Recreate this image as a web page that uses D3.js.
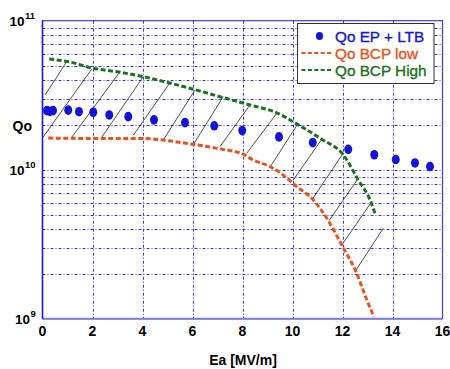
<!DOCTYPE html>
<html>
<head>
<meta charset="utf-8">
<script src="https://cdn.jsdelivr.net/npm/d3@7"></script>
<style>
  body { margin: 0; background: #fff; }
  text { font-family: Arial, "Liberation Sans", sans-serif; }
</style>
</head>
<body>
<div id="chart"></div>
<script>
// Qo EP + LTB measured points
const epEa = [0.18, 0.3, 0.42, 1.03, 1.46, 2.03, 2.67, 3.43, 4.46, 5.7, 6.87, 7.99, 9.46, 10.81, 12.23, 13.27, 14.13, 14.9, 15.5];
const epQo = [2.49e10, 2.46e10, 2.49e10, 2.51e10, 2.45e10, 2.43e10, 2.33e10, 2.27e10, 2.16e10, 2.07e10, 1.97e10, 1.83e10, 1.66e10, 1.52e10, 1.37e10, 1.26e10, 1.17e10, 1.11e10, 1.05e10];

// Qo BCP low
const lowEa = [0.23, 2.3, 4.03, 4.82, 5.9, 7.1, 8.03, 8.43, 9.1, 9.63, 10.17, 10.77, 11.5, 11.97, 12.54, 12.97, 13.26];
const lowQo = [1.63e10, 1.62e10, 1.62e10, 1.58e10, 1.49e10, 1.38e10, 1.27e10, 1.16e10, 1.05e10, 9.2e9, 7.69e9, 6.43e9, 4.36e9, 3.12e9, 2.07e9, 1.34e9, 1.03e9];

// Qo BCP High
const highEa = [0.27, 1.1, 1.97, 3.1, 4.03, 4.97, 6.03, 7.1, 8.3, 9.37, 10.17, 11.17, 12.03, 12.63, 13.1, 13.3];
const highQo = [5.53e10, 5.28e10, 4.82e10, 4.51e10, 4.21e10, 3.86e10, 3.47e10, 3.09e10, 2.72e10, 2.41e10, 2.03e10, 1.60e10, 1.26e10, 8.53e9, 6.27e9, 5.10e9];

// hatch segments between the two BCP curves: [Ea1, Qo1, Ea2, Qo2]
const hatch = [
  [0.1, 3.17e10, 0.97, 5.31e10],
  [0.03, 1.66e10, 1.97, 4.74e10],
  [1.17, 1.65e10, 3.1, 4.55e10],
  [2.37, 1.65e10, 4.03, 4.21e10],
  [3.63, 1.70e10, 5.1, 3.84e10],
  [4.83, 1.58e10, 6.1, 3.43e10],
  [6.06, 1.50e10, 7.23, 3.09e10],
  [7.1, 1.43e10, 8.3, 2.72e10],
  [8.17, 1.29e10, 9.37, 2.39e10],
  [9.1, 1.04e10, 10.23, 2.05e10],
  [10.03, 8.53e9, 11.17, 1.60e10],
  [10.77, 6.26e9, 12.03, 1.29e10],
  [11.46, 4.55e9, 12.63, 8.75e9],
  [11.97, 3.12e9, 13.17, 6.10e9],
  [12.5, 2.07e9, 13.63, 4.04e9]
];

const xTicks = [0, 2, 4, 6, 8, 10, 12, 14, 16];
const yDecades = [1e9, 1e10, 1e11];
const yDecadeLabels = [["10", "9"], ["10", "10"], ["10", "11"]];
const legendNames = ["Qo EP + LTB", "Qo BCP low", "Qo BCP High"];

const W = 450, H = 369;
const margin = {top: 20.7, right: 7.5, bottom: 50.3, left: 42.5};

const x = d3.scaleLinear().domain([0, 16]).range([margin.left, W - margin.right]);
const y = d3.scaleLog().domain([1e9, 1e11]).range([H - margin.bottom, margin.top]);

const blue = "#1414d8", orange = "#e8521e", green = "#1f6e22";

const svg = d3.select("#chart").append("svg")
  .attr("width", W).attr("height", H);

svg.append("clipPath").attr("id", "plot")
  .append("rect")
    .attr("x", margin.left).attr("y", margin.top)
    .attr("width", W - margin.left - margin.right)
    .attr("height", H - margin.top - margin.bottom);

// grid
let minor = [];
[1e9, 1e10].forEach(d => { for (let k = 2; k <= 10; k++) minor.push(d * k); });
minor = minor.filter(v => v < 1e11);

const grid = svg.append("g")
  .attr("stroke", "#3535e8")
  .attr("stroke-width", 1)
  .attr("stroke-dasharray", "3,2,1,2");

grid.selectAll(".hg").data(minor).enter().append("line")
  .attr("x1", margin.left).attr("x2", W - margin.right)
  .attr("y1", d => Math.round(y(d)) + 0.5).attr("y2", d => Math.round(y(d)) + 0.5);

grid.selectAll(".vg").data(xTicks.slice(1, -1)).enter().append("line")
  .attr("x1", d => Math.round(x(d)) + 0.5).attr("x2", d => Math.round(x(d)) + 0.5)
  .attr("y1", margin.top).attr("y2", H - margin.bottom);

// frame
svg.append("rect")
  .attr("x", margin.left).attr("y", margin.top)
  .attr("width", W - margin.left - margin.right)
  .attr("height", H - margin.top - margin.bottom)
  .attr("fill", "none").attr("stroke", "#3a3ae4").attr("stroke-width", 1.2);

svg.append("line")
  .attr("x1", margin.left).attr("x2", W - margin.right)
  .attr("y1", H - margin.bottom).attr("y2", H - margin.bottom)
  .attr("stroke", "#7d7de6").attr("stroke-width", 2);
svg.append("line")
  .attr("x1", margin.left).attr("x2", margin.left)
  .attr("y1", margin.top).attr("y2", H - margin.bottom)
  .attr("stroke", "#1a1ae0").attr("stroke-width", 1.5);

const plot = svg.append("g").attr("clip-path", "url(#plot)");

// hatching
plot.selectAll(".hatch").data(hatch).enter().append("line")
  .attr("x1", d => x(d[0])).attr("y1", d => y(d[1]))
  .attr("x2", d => x(d[2])).attr("y2", d => y(d[3]))
  .attr("stroke", "#222").attr("stroke-width", 0.8);

const line = d3.line()
  .x(d => x(d[0])).y(d => y(d[1]))
  .curve(d3.curveMonotoneX);

plot.append("path")
  .datum(d3.zip(lowEa, lowQo))
  .attr("d", line)
  .attr("fill", "none").attr("stroke", orange)
  .attr("stroke-width", 3).attr("stroke-dasharray", "5,2.5");

plot.append("path")
  .datum(d3.zip(highEa, highQo))
  .attr("d", line)
  .attr("fill", "none").attr("stroke", green)
  .attr("stroke-width", 3).attr("stroke-dasharray", "5,2.5");

plot.selectAll(".ep").data(d3.zip(epEa, epQo)).enter().append("ellipse")
  .attr("cx", d => x(d[0])).attr("cy", d => y(d[1]))
  .attr("rx", 4).attr("ry", 4.8)
  .attr("fill", blue);

// x tick labels
svg.selectAll(".xt").data(xTicks).enter().append("text")
  .attr("x", d => x(d)).attr("y", 336)
  .attr("text-anchor", "middle")
  .attr("font-size", 14).attr("font-weight", "bold")
  .text(d => d);

// y decade labels
const yl = svg.selectAll(".yt").data(yDecades).enter().append("text")
  .attr("x", (d, i) => i === 0 ? 15 : 9.5)
  .attr("y", d => y(d) + 5)
  .attr("font-size", 13.5).attr("font-weight", "bold");
yl.append("tspan").text((d, i) => yDecadeLabels[i][0]);
yl.append("tspan").attr("dy", -7).attr("dx", 0.5).attr("font-size", 9.5)
  .text((d, i) => yDecadeLabels[i][1]);

// axis titles
svg.append("text")
  .attr("x", 12.5).attr("y", 130.5)
  .attr("font-size", 14).attr("font-weight", "bold")
  .text("Qo");

svg.append("text")
  .attr("x", 243).attr("y", 365)
  .attr("text-anchor", "middle")
  .attr("font-size", 14).attr("font-weight", "bold")
  .text("Ea [MV/m]");

// legend
const lg = svg.append("g");
lg.append("rect")
  .attr("x", 297.5).attr("y", 23.5).attr("width", 136.5).attr("height", 60)
  .attr("fill", "#fff").attr("stroke", "#333").attr("stroke-width", 1);

const colors = [blue, orange, green];
const rows = lg.selectAll(".row").data(legendNames).enter().append("g")
  .attr("transform", (d, i) => `translate(0,${36 + i * 17})`);

rows.append("text")
  .attr("x", 335).attr("y", 5.5)
  .attr("font-size", 15.3)
  .attr("fill", (d, i) => colors[i])
  .attr("stroke", (d, i) => colors[i]).attr("stroke-width", 0.35)
  .text(d => d);

rows.filter((d, i) => i === 0).append("ellipse")
  .attr("cx", 319.5).attr("cy", 0).attr("rx", 3.6).attr("ry", 4)
  .attr("fill", blue);

rows.filter((d, i) => i > 0).append("line")
  .attr("x1", 301.5).attr("x2", 333.5).attr("y1", 0).attr("y2", 0)
  .attr("stroke", (d, i) => colors[i + 1])
  .attr("stroke-width", 2).attr("stroke-dasharray", "4,2.4");
</script>
</body>
</html>
